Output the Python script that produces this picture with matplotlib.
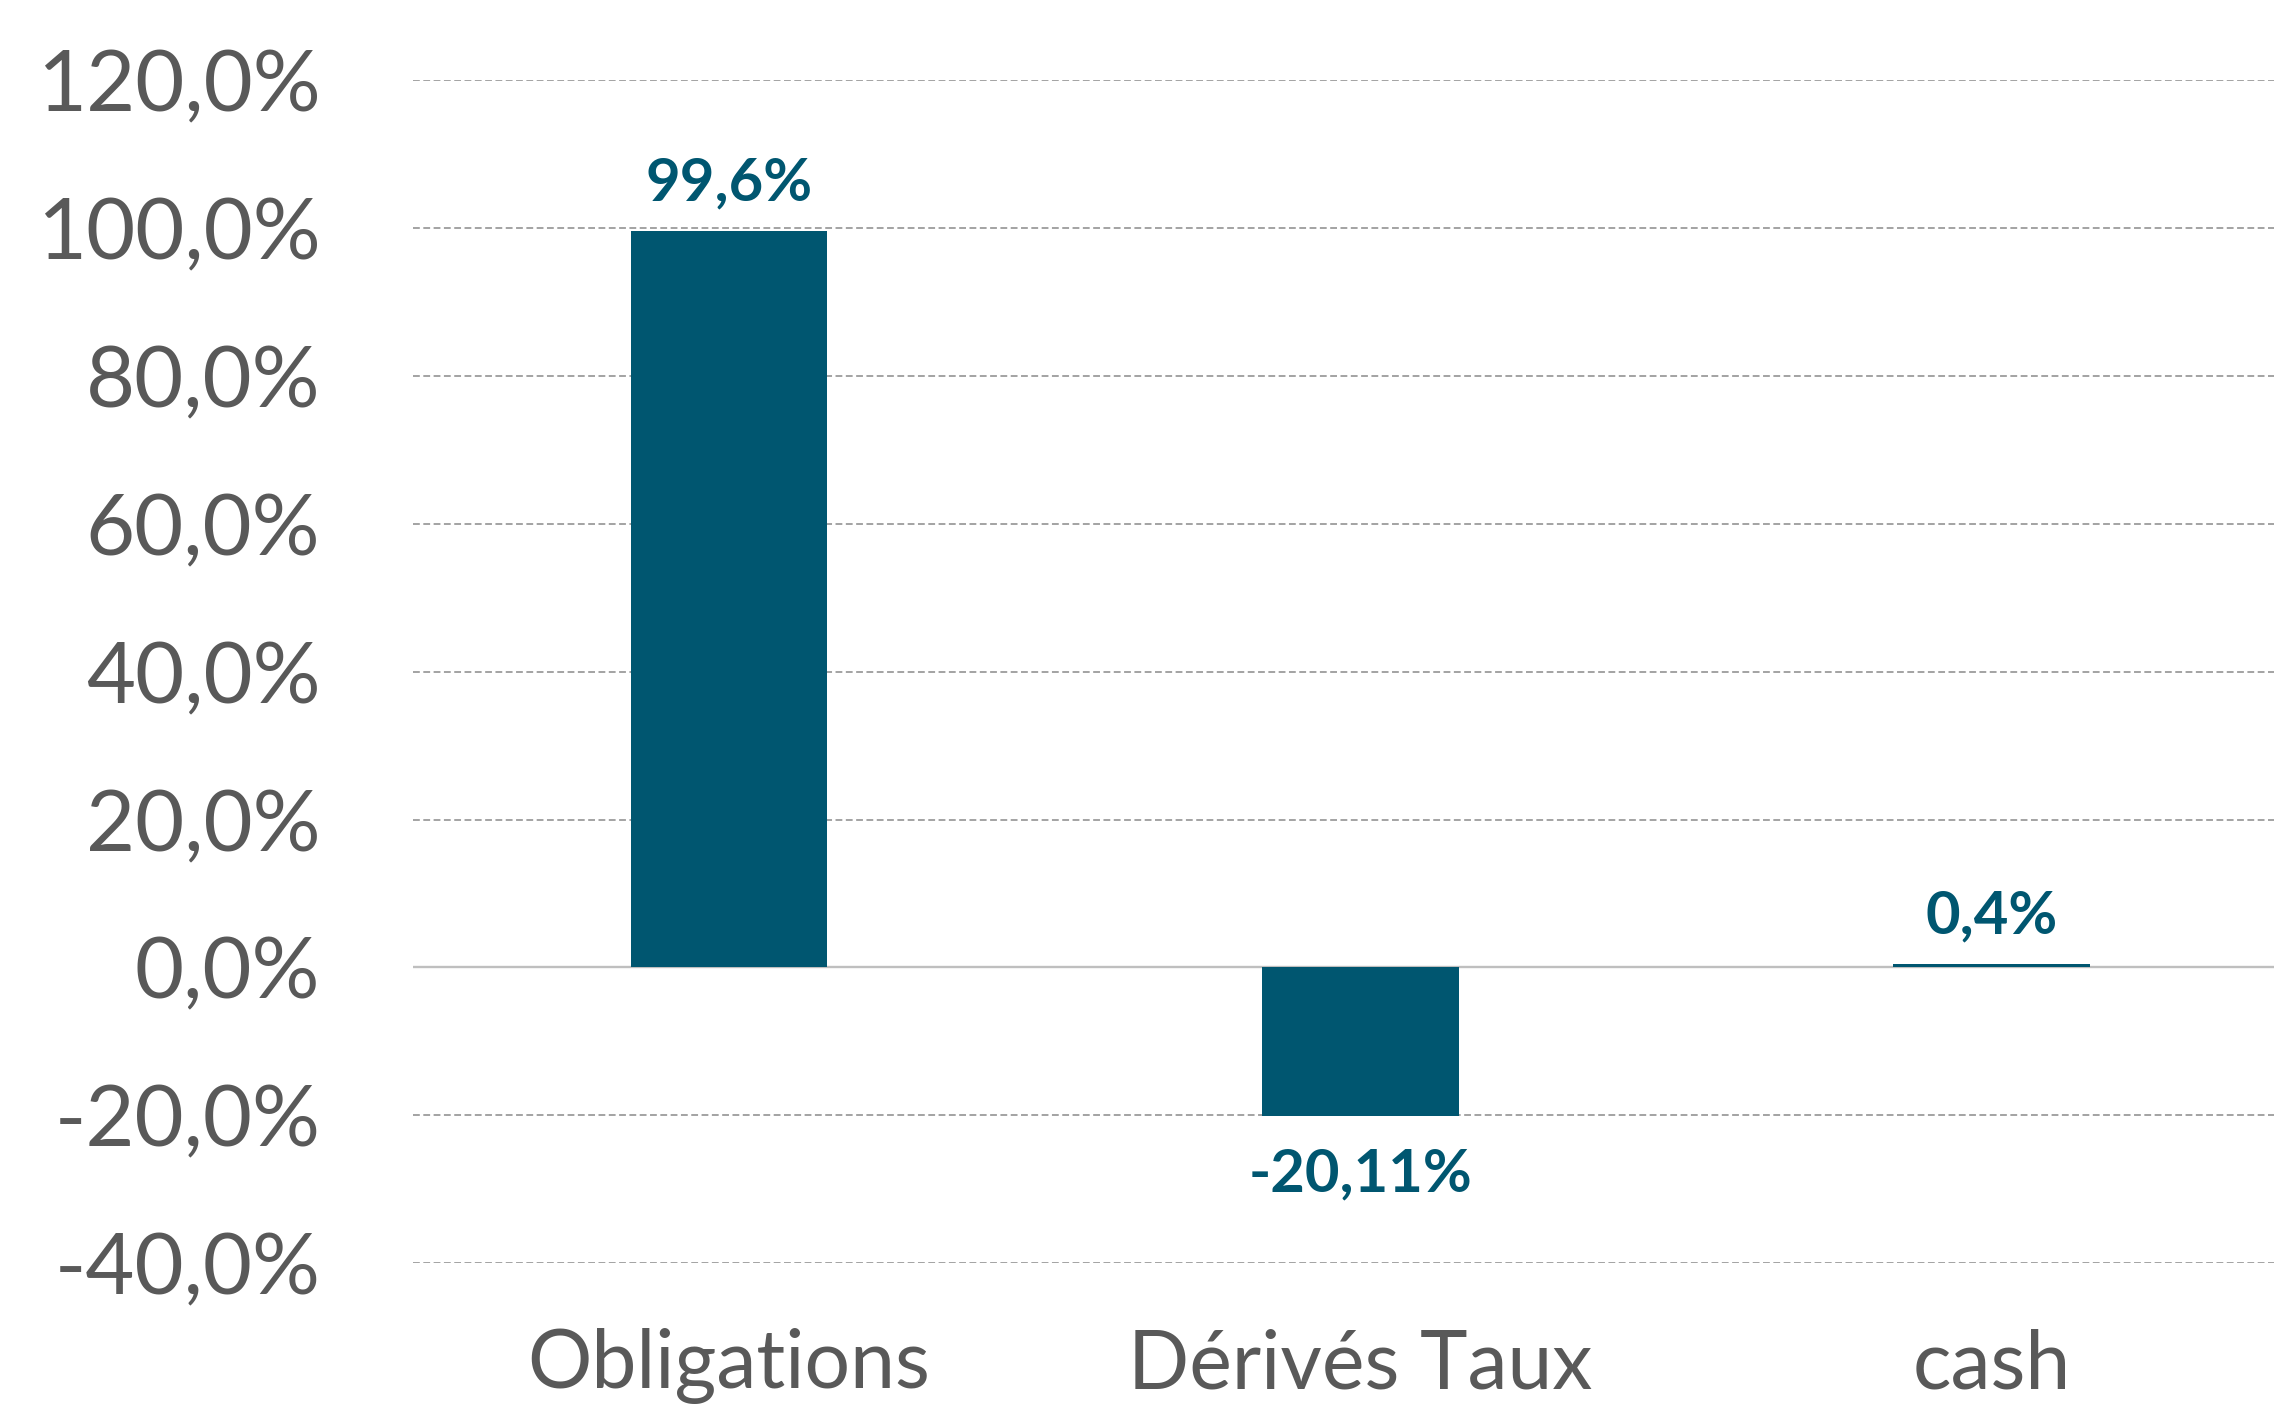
import matplotlib.pyplot as plt

# data
categories = ["Obligations", "Dérivés Taux", "cash"]
values = [99.6, -20.11, 0.4]
labels = ["99,6%", "-20,11%", "0,4%"]
yticks = [-40, -20, 0, 20, 40, 60, 80, 100, 120]

BAR_COLOR = "#005670"
TEXT_GRAY = "#595959"

plt.rcParams['font.family'] = ['Lato', 'DejaVu Sans']

fig = plt.figure(figsize=(22.74, 14.09), dpi=100)
ax = fig.add_axes([0.1818, 0.1036, 1.0145 - 0.1818, 0.943 - 0.1036])

x = list(range(len(categories)))
ax.bar(x, values, width=0.312, color=BAR_COLOR, zorder=3)

# grid lines (dashed), zero line solid
for t in yticks:
    if t == 0:
        ax.axhline(0, color="#BFBFBF", lw=1.7, zorder=2)
    else:
        ax.axhline(t, color="#A3A3A3", lw=1.4, ls=(0, (3.5, 1.8)), zorder=1)

# data labels
for xi, v, lab in zip(x, values, labels):
    if v >= 0:
        ax.annotate(lab, (xi, v), xytext=(0, 15), textcoords="offset points",
                    ha="center", va="bottom", fontsize=43, fontweight="bold",
                    color=BAR_COLOR)
    else:
        ax.annotate(lab, (xi, v), xytext=(0, -23), textcoords="offset points",
                    ha="center", va="top", fontsize=43, fontweight="bold",
                    color=BAR_COLOR)

ax.set_xlim(-0.5, 2.5)
ax.set_ylim(-40, 120)
ax.set_yticks(yticks)
ax.set_yticklabels(["{:.1f}%".format(t).replace(".", ",") for t in yticks])
ax.set_xticks(x)
ax.set_xticklabels(categories)

ax.tick_params(axis="y", length=0, pad=67, labelsize=61, labelcolor=TEXT_GRAY)
ax.tick_params(axis="x", length=0, pad=47, labelsize=58, labelcolor=TEXT_GRAY)

for s in ax.spines.values():
    s.set_visible(False)

fig.savefig("out.png", dpi=100)
